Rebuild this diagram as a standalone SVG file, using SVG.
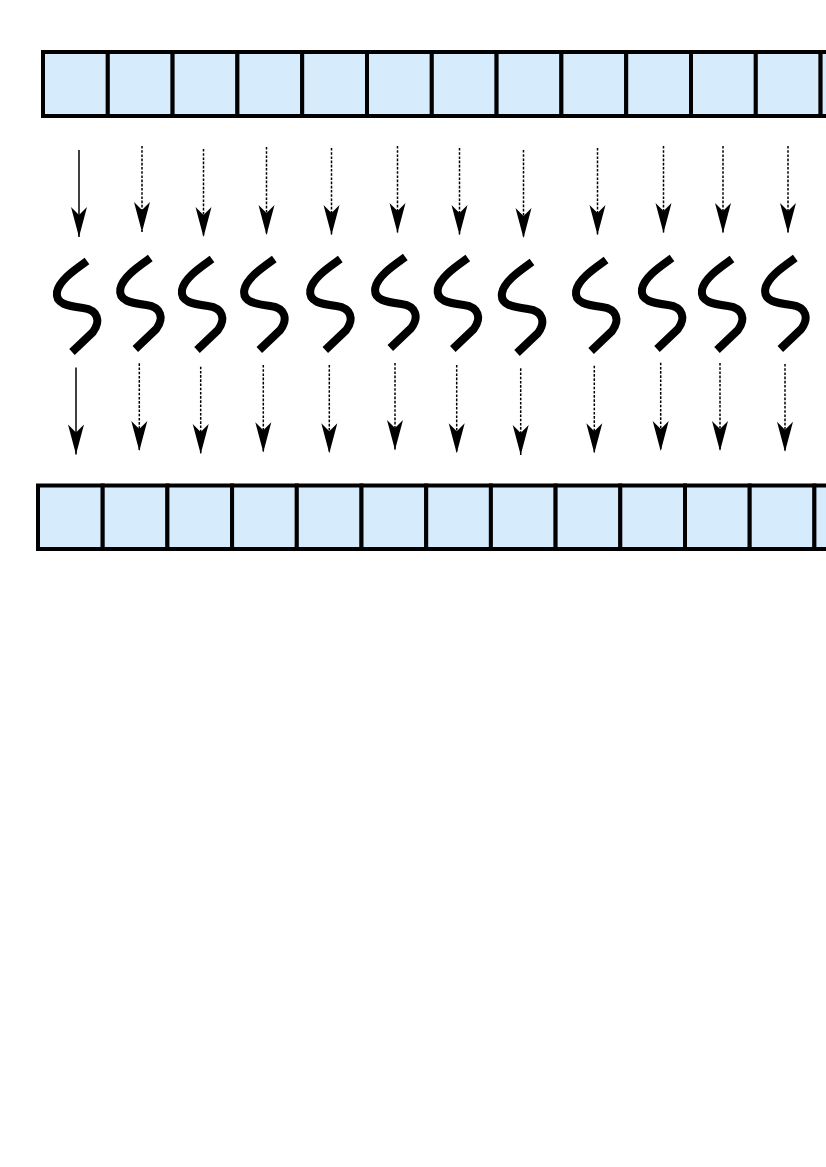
<svg xmlns="http://www.w3.org/2000/svg" width="826" height="1167" viewBox="0 0 826 1167">
<style>
.cell{fill:#d6ecfd;stroke:#000;stroke-width:4}
.sq{fill:none;stroke:#000;stroke-width:8;stroke-linecap:butt;stroke-linejoin:round}
.ar{fill:none;stroke:#000;stroke-width:1.5;marker-end:url(#head)}
.dash{stroke-dasharray:2.6,1.6}
</style>
<defs>
<marker id="head" markerUnits="userSpaceOnUse" viewBox="-31 -9 32 18" markerWidth="32" markerHeight="18" refX="0" refY="0" orient="auto">
<path d="M0,0 L-30,-8 L-22,0 L-30,8 Z" fill="#000"/>
</marker>
<path id="s" class="sq" d="M87,261 C76,269 59,280 57,292 C55,304 68,306 83,308 C98,310 101,321 93,332 L72,352"/>
</defs>
<rect width="826" height="1167" fill="#fff"/>
<g id="input-array">
<rect class="cell" x="43" y="52" width="64.8" height="64"/>
<rect class="cell" x="107.8" y="52" width="64.8" height="64"/>
<rect class="cell" x="172.6" y="52" width="64.8" height="64"/>
<rect class="cell" x="237.4" y="52" width="64.8" height="64"/>
<rect class="cell" x="302.2" y="52" width="64.8" height="64"/>
<rect class="cell" x="367" y="52" width="64.8" height="64"/>
<rect class="cell" x="431.8" y="52" width="64.8" height="64"/>
<rect class="cell" x="496.6" y="52" width="64.8" height="64"/>
<rect class="cell" x="561.4" y="52" width="64.8" height="64"/>
<rect class="cell" x="626.2" y="52" width="64.8" height="64"/>
<rect class="cell" x="691" y="52" width="64.8" height="64"/>
<rect class="cell" x="755.8" y="52" width="64.8" height="64"/>
<rect class="cell" x="820.6" y="52" width="64.8" height="64"/>
</g>
<g id="functions">
<g id="f1"><use href="#s"/></g>
<g id="f2"><use href="#s" transform="translate(63.3,-3)"/></g>
<g id="f3"><use href="#s" transform="translate(125,-2)"/></g>
<g id="f4"><use href="#s" transform="translate(187.3,-2)"/></g>
<g id="f5"><use href="#s" transform="translate(253.3,-2)"/></g>
<g id="f6"><use href="#s" transform="translate(318.3,-4)"/></g>
<g id="f7"><use href="#s" transform="translate(380.8,-3)"/></g>
<g id="f8"><use href="#s" transform="translate(445,1)"/></g>
<g id="f9"><use href="#s" transform="translate(519.1,-1)"/></g>
<g id="f10"><use href="#s" transform="translate(585,-3)"/></g>
<g id="f11"><use href="#s" transform="translate(645,-2)"/></g>
<g id="f12"><use href="#s" transform="translate(708.3,-3)"/></g>
</g>
<g id="output-array">
<rect class="cell" x="38" y="485.5" width="64.7" height="63.5"/>
<rect class="cell" x="102.7" y="485.5" width="64.7" height="63.5"/>
<rect class="cell" x="167.4" y="485.5" width="64.7" height="63.5"/>
<rect class="cell" x="232.1" y="485.5" width="64.7" height="63.5"/>
<rect class="cell" x="296.8" y="485.5" width="64.7" height="63.5"/>
<rect class="cell" x="361.5" y="485.5" width="64.7" height="63.5"/>
<rect class="cell" x="426.2" y="485.5" width="64.7" height="63.5"/>
<rect class="cell" x="490.9" y="485.5" width="64.7" height="63.5"/>
<rect class="cell" x="555.6" y="485.5" width="64.7" height="63.5"/>
<rect class="cell" x="620.3" y="485.5" width="64.7" height="63.5"/>
<rect class="cell" x="685" y="485.5" width="64.7" height="63.5"/>
<rect class="cell" x="749.7" y="485.5" width="64.7" height="63.5"/>
<rect class="cell" x="814.4" y="485.5" width="64.7" height="63.5"/>
</g>
<g id="connectors">
<path class="ar" d="M79,150 V237"/>
<path class="ar dash" d="M142,146 V232"/>
<path class="ar dash" d="M203.5,149 V237"/>
<path class="ar dash" d="M266.5,147 V235"/>
<path class="ar dash" d="M331.5,148 V235"/>
<path class="ar dash" d="M397.5,146 V233"/>
<path class="ar dash" d="M459.5,148 V235"/>
<path class="ar dash" d="M523.5,150 V238"/>
<path class="ar dash" d="M597.5,148 V235"/>
<path class="ar dash" d="M663.5,146 V233"/>
<path class="ar dash" d="M723,146 V233"/>
<path class="ar dash" d="M788,146 V233"/>
<path class="ar" d="M76,367.5 V454.5"/>
<path class="ar dash" d="M139.3,363.3 V451"/>
<path class="ar dash" d="M200.7,366.7 V454"/>
<path class="ar dash" d="M263.3,365 V452.3"/>
<path class="ar dash" d="M329.3,365 V453.3"/>
<path class="ar dash" d="M395,363 V450"/>
<path class="ar dash" d="M456.7,365 V453.3"/>
<path class="ar dash" d="M520.7,368.3 V455"/>
<path class="ar dash" d="M594.3,365.7 V453.3"/>
<path class="ar dash" d="M660.7,362.7 V451"/>
<path class="ar dash" d="M720,363 V451"/>
<path class="ar dash" d="M785,364 V451.7"/>
</g>
</svg>
